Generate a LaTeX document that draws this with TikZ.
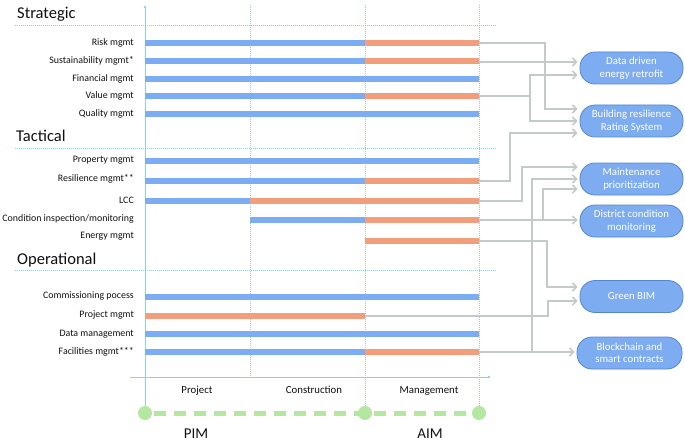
\documentclass[tikz,border=0pt]{standalone}
\usepackage{fontspec}
\setmainfont{Carlito}
\usetikzlibrary{arrows.meta}
\definecolor{barblue}{RGB}{124,172,244}
\definecolor{barorange}{RGB}{242,158,124}
\definecolor{conngray}{RGB}{196,202,199}
\definecolor{axisblue}{RGB}{140,206,244}
\definecolor{boxfill}{RGB}{125,172,240}
\definecolor{boxdraw}{RGB}{84,134,212}
\definecolor{mygreen}{RGB}{180,232,160}
\definecolor{txt}{RGB}{15,15,15}
\tikzset{
  bluebar/.style={draw=none,fill=barblue},
  orangebar/.style={draw=none,fill=barorange},
  conn/.style={draw=conngray,line width=2.2pt,-{Straight Barb[length=4pt,width=8pt,line width=1.6pt]},shorten >=2pt},
  connline/.style={draw=conngray,line width=2.2pt},
  rowlabel/.style={anchor=east,font=\fontsize{9.9}{11}\selectfont,text=txt,inner sep=0pt},
  header/.style={anchor=base west,font=\fontsize{16.5}{18}\selectfont,text=txt,inner sep=0pt},
  phase/.style={anchor=base,font=\fontsize{10.8}{12}\selectfont,text=txt,inner sep=0pt},
  model/.style={anchor=base,font=\fontsize{15}{16}\selectfont,text=txt,inner sep=0pt},
  target/.style={draw=boxdraw,fill=boxfill,line width=0.8pt,rounded corners=15pt,minimum width=103pt,minimum height=32pt,align=center,text=white,font=\fontsize{10.8}{12.5}\selectfont,inner sep=1pt},
  vdotted/.style={draw=axisblue,line width=0.9pt,dash pattern=on 1pt off 1pt},
  hdotted/.style={draw=axisblue,line width=0.9pt,dash pattern=on 1pt off 1pt},
  milestone/.style={circle,fill=mygreen,draw=none,minimum size=14pt,inner sep=0pt},
}
\begin{document}
\begin{tikzpicture}[x=1pt,y=-1pt]
\useasboundingbox (0,0) rectangle (685,441);
% grid lines
\foreach \yy in {25,148,270} \draw[hdotted] (15,\yy) -- (497,\yy);
\draw[vdotted] (250,5) -- (250,377);
\draw[vdotted] (365,5) -- (365,413);
\draw[vdotted] (479,5) -- (479,413);
\draw[draw=axisblue,line width=1pt,-{Latex[length=3pt,width=3pt]}] (145,413) -- (145,5);
\draw[draw=axisblue,line width=1pt,-{Latex[length=3pt,width=3pt]}] (130,377) -- (491,377);
% headers
\node[header] (hs) at (17,19) {Strategic};
\node[header] (ht) at (16,142) {Tactical};
\node[header] (ho) at (17,264) {Operational};
% row labels
\node[rowlabel] (l1) at (134,43) {Risk mgmt};
\node[rowlabel] (l2) at (134,61) {Sustainability mgmt*};
\node[rowlabel] (l3) at (134,79) {Financial mgmt};
\node[rowlabel] (l4) at (134,96) {Value mgmt};
\node[rowlabel] (l5) at (134,114) {Quality mgmt};
\node[rowlabel] (l6) at (134,160) {Property mgmt};
\node[rowlabel] (l7) at (134,179) {Resilience mgmt**};
\node[rowlabel] (l8) at (134,200) {LCC};
\node[rowlabel] (l9) at (134,219) {Condition inspection/monitoring};
\node[rowlabel] (l10) at (134,236) {Energy mgmt};
\node[rowlabel] (l11) at (134,296) {Commissioning pocess};
\node[rowlabel] (l12) at (134,315) {Project mgmt};
\node[rowlabel] (l13) at (134,334) {Data management};
\node[rowlabel] (l14) at (134,352) {Facilities mgmt***};
% bars
\def\bh{3}
\fill[bluebar] (145,43-\bh) rectangle (365,43+\bh);
\fill[orangebar] (365,43-\bh) rectangle (479,43+\bh);
\fill[bluebar] (145,61-\bh) rectangle (365,61+\bh);
\fill[orangebar] (365,61-\bh) rectangle (479,61+\bh);
\fill[bluebar] (145,79-\bh) rectangle (479,79+\bh);
\fill[bluebar] (145,96-\bh) rectangle (365,96+\bh);
\fill[orangebar] (365,96-\bh) rectangle (479,96+\bh);
\fill[bluebar] (145,114-\bh) rectangle (479,114+\bh);
\fill[bluebar] (145,161-\bh) rectangle (479,161+\bh);
\fill[bluebar] (145,181-\bh) rectangle (365,181+\bh);
\fill[orangebar] (365,181-\bh) rectangle (479,181+\bh);
\fill[bluebar] (145,201-\bh) rectangle (250,201+\bh);
\fill[orangebar] (250,201-\bh) rectangle (479,201+\bh);
\fill[bluebar] (250,220-\bh) rectangle (365,220+\bh);
\fill[orangebar] (365,220-\bh) rectangle (479,220+\bh);
\fill[orangebar] (365,241-\bh) rectangle (479,241+\bh);
\fill[bluebar] (145,297-\bh) rectangle (479,297+\bh);
\fill[orangebar] (145,316-\bh) rectangle (365,316+\bh);
\fill[bluebar] (145,334-\bh) rectangle (479,334+\bh);
\fill[bluebar] (145,352-\bh) rectangle (365,352+\bh);
\fill[orangebar] (365,352-\bh) rectangle (479,352+\bh);
% bar end coordinates
\coordinate (eRisk) at (479,43);
\coordinate (eSust) at (479,62);
\coordinate (eValue) at (479,96);
\coordinate (eRes) at (479,181);
\coordinate (eLCC) at (479,201);
\coordinate (eCond) at (479,220);
\coordinate (eEnergy) at (479,241);
\coordinate (eProj) at (365,316);
\coordinate (eFac) at (479,352);
% target boxes
\node[target] (ddr) at (631.5,68) {Data driven\\energy retrofit};
\node[target] (brs) at (631.5,121) {Building resilience\\Rating System};
\node[target] (mp) at (631.5,179) {Maintenance\\prioritization};
\node[target] (dcm) at (631.5,221) {District condition\\monitoring};
\node[target] (gb) at (631.5,296.5) {Green BIM};
\node[target,minimum width=105pt] (bc) at (629.5,353) {Blockchain and\\smart contracts};
% connectors
\draw[conn] (eSust) -- (ddr.west |- 0,62);
\draw[conn] (eRisk) -- (545,43) |- (brs.west |- 0,109);
\draw[connline] (eValue) -- (530,96);
\draw[conn] (530,96) |- (ddr.west |- 0,75);
\draw[conn] (530,96) |- (brs.west |- 0,121);
\draw[conn] (eRes) -- (510,181) |- (brs.west |- 0,133);
\draw[conn] (eLCC) -- (522,201) |- (mp.west |- 0,167);
\draw[conn] (eFac) -- (bc.west |- 0,352);
\draw[conn] (532,352) |- (mp.west |- 0,179);
\draw[conn] (eCond) -- (dcm.west |- 0,220);
\draw[conn] (543,220) |- (mp.west |- 0,189);
\draw[conn] (eEnergy) -- (547,241) |- (gb.west |- 0,287);
\draw[conn] (eProj) -- (548,316) |- (gb.west |- 0,301);
% phases
\node[phase] (pp) at (197,393) {Project};
\node[phase] (pc) at (314,393) {Construction};
\node[phase] (pm) at (429,393) {Management};
% milestones
\draw[draw=mygreen,line width=5pt,dash pattern=on 12pt off 8pt,dash phase=-4pt] (150,413) -- (479,413);
\node[milestone] (m1) at (145,413) {};
\node[milestone] (m2) at (365,413) {};
\node[milestone] (m3) at (479,413) {};
\node[model] (pim) at (196,438.5) {PIM};
\node[model] (aim) at (430,438.5) {AIM};
\end{tikzpicture}
\end{document}
